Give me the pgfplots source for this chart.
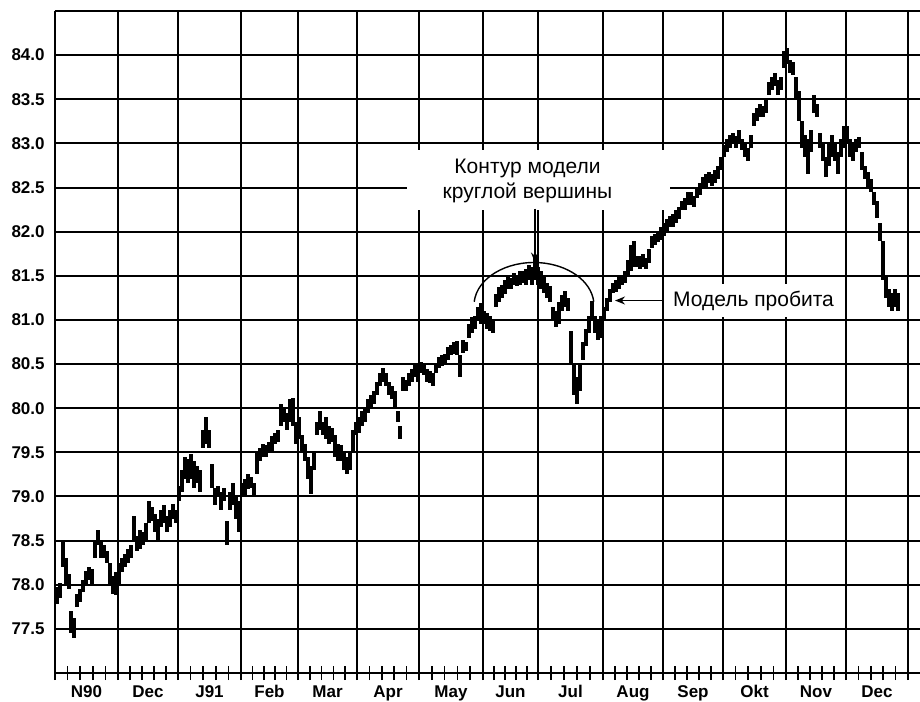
\documentclass[border=0pt]{standalone}
\usepackage{pgfplots}
\pgfplotsset{compat=1.18}
\usepackage{pgfplotstable}
\usepackage{fontspec}
\setmainfont{Liberation Sans}
\usetikzlibrary{arrows.meta,calc}

\pgfplotstableread{
x l h
2 77.78 77.98
5 77.85 78.02
8 78.2 78.5
11 78.0 78.3
14 77.95 78.12
16 77.45 77.7
19 77.4 77.62
22 77.75 77.9
25 77.8 77.95
28 77.92 78.05
31 78.0 78.15
34 78.05 78.2
37 78.0 78.18
40 78.3 78.5
43 78.45 78.62
46 78.3 78.48
49 78.3 78.45
52 78.25 78.38
55 78.0 78.25
58 77.9 78.1
61 77.88 78.15
64 78.0 78.25
67 78.15 78.3
70 78.2 78.35
73 78.25 78.4
76 78.3 78.45
79 78.5 78.78
82 78.38 78.55
85 78.4 78.62
88 78.45 78.6
91 78.5 78.7
94 78.7 78.95
97 78.72 78.88
100 78.6 78.8
103 78.5 78.75
106 78.65 78.85
109 78.7 78.9
112 78.6 78.78
115 78.65 78.85
118 78.75 78.92
121 78.7 78.85
124 78.95 79.12
127 79.05 79.3
130 79.2 79.45
133 79.15 79.42
136 79.2 79.48
139 79.1 79.4
142 79.15 79.35
145 79.05 79.3
148 79.55 79.75
151 79.6 79.9
154 79.55 79.75
157 79.1 79.37
160 78.9 79.1
163 79.0 79.12
166 78.85 79.05
169 78.95 79.1
172 78.45 78.72
175 78.85 79.05
178 78.9 79.15
181 78.75 79.0
184 78.6 78.95
187 79.0 79.15
190 79.0 79.2
193 79.08 79.25
196 79.1 79.22
199 79.0 79.15
202 79.25 79.5
205 79.4 79.55
208 79.45 79.6
211 79.45 79.58
214 79.5 79.62
217 79.5 79.68
220 79.6 79.72
223 79.62 79.75
226 79.8 80.05
229 79.85 80.0
232 79.75 79.95
235 79.85 80.1
238 79.8 80.12
241 79.6 79.85
244 79.65 79.9
247 79.5 79.7
250 79.4 79.6
253 79.2 79.45
256 79.03 79.35
259 79.3 79.5
262 79.7 79.85
265 79.75 79.97
268 79.7 79.85
271 79.65 79.9
274 79.6 79.8
277 79.62 79.78
280 79.45 79.7
283 79.4 79.6
286 79.4 79.58
289 79.3 79.5
292 79.25 79.45
295 79.3 79.5
298 79.5 79.75
301 79.7 79.85
304 79.72 79.9
307 79.8 79.97
310 79.85 80.0
313 79.95 80.1
316 80.0 80.15
319 80.05 80.2
322 80.15 80.3
325 80.25 80.4
328 80.3 80.46
331 80.25 80.4
334 80.15 80.3
337 80.1 80.25
340 80.0 80.2
343 79.85 79.97
345 79.65 79.8
348 80.2 80.35
351 80.2 80.32
354 80.25 80.4
357 80.3 80.45
360 80.35 80.5
363 80.3 80.5
366 80.4 80.52
369 80.38 80.5
372 80.3 80.45
375 80.28 80.42
378 80.25 80.4
381 80.4 80.5
384 80.45 80.58
387 80.48 80.6
390 80.5 80.62
393 80.55 80.7
396 80.6 80.72
399 80.62 80.75
402 80.6 80.76
405 80.35 80.6
408 80.62 80.77
411 80.65 80.75
414 80.8 80.95
417 80.85 81.03
420 80.9 81.05
423 81.0 81.15
426 80.95 81.19
429 80.95 81.1
432 80.9 81.08
435 80.88 81.05
438 80.85 81.0
441 81.15 81.3
444 81.2 81.37
447 81.25 81.4
450 81.3 81.45
453 81.35 81.5
456 81.35 81.48
459 81.4 81.53
462 81.38 81.5
465 81.4 81.55
468 81.42 81.56
471 81.4 81.58
474 81.45 81.62
477 81.4 81.6
480 81.45 81.72
483 81.4 81.6
486 81.35 81.55
489 81.3 81.5
492 81.25 81.42
495 81.2 81.38
498 81.0 81.15
501 80.92 81.1
504 80.95 81.2
507 81.1 81.28
510 81.15 81.33
513 81.1 81.25
516 80.5 80.88
519 80.15 80.5
522 80.05 80.35
525 80.2 80.5
528 80.55 80.75
531 80.7 80.9
534 80.85 81.05
537 81.0 81.22
540 80.85 81.05
543 80.77 81.0
546 80.8 81.05
549 81.0 81.15
552 81.1 81.25
555 81.2 81.35
558 81.3 81.42
561 81.32 81.45
564 81.35 81.5
567 81.4 81.5
570 81.42 81.55
573 81.5 81.68
576 81.55 81.85
579 81.6 81.9
582 81.6 81.72
585 81.58 81.72
588 81.6 81.75
591 81.58 81.7
594 81.65 81.8
597 81.82 81.95
600 81.85 81.98
603 81.88 82.0
606 81.9 82.05
609 81.95 82.1
612 82.0 82.15
615 82.05 82.18
618 82.05 82.2
621 82.1 82.25
624 82.15 82.28
627 82.25 82.35
630 82.25 82.38
633 82.3 82.45
636 82.3 82.45
639 82.28 82.4
642 82.38 82.5
645 82.42 82.55
648 82.5 82.62
651 82.5 82.65
654 82.55 82.68
657 82.52 82.65
660 82.55 82.7
663 82.6 82.75
666 82.7 82.85
669 82.85 82.98
672 82.9 83.05
675 82.95 83.1
678 83.0 83.12
681 82.95 83.08
684 83.0 83.15
687 82.92 83.05
690 82.85 83.0
693 82.8 82.95
696 82.95 83.1
699 83.2 83.35
702 83.25 83.4
705 83.3 83.45
708 83.3 83.42
711 83.35 83.5
714 83.55 83.7
717 83.6 83.75
720 83.65 83.8
723 83.55 83.72
726 83.6 83.75
729 83.85 84.05
732 83.9 84.08
735 83.8 83.95
738 83.78 83.92
741 83.5 83.75
744 83.25 83.6
747 82.95 83.25
750 82.85 83.1
753 82.65 83.05
756 82.9 83.15
759 83.35 83.55
762 83.3 83.45
765 82.95 83.12
768 82.8 83.0
771 82.62 82.85
774 82.75 83.0
777 82.85 83.1
780 82.8 83.0
783 82.65 82.9
786 82.85 83.05
789 82.95 83.2
792 83.0 83.2
795 82.85 83.05
798 82.8 83.0
801 82.9 83.05
804 82.95 83.07
807 82.7 82.9
810 82.6 82.75
813 82.5 82.68
816 82.45 82.6
819 82.3 82.45
822 82.15 82.35
825 81.9 82.1
828 81.45 81.9
831 81.25 81.5
834 81.15 81.35
837 81.1 81.3
840 81.15 81.35
843 81.1 81.3
}\bars

\begin{document}
\begin{tikzpicture}
\begin{axis}[
  scale only axis,
  width=432.5pt, height=331pt,
  xmin=0, xmax=865, ymin=77, ymax=84.5,
  axis x line*=bottom, axis y line*=left,
  axis line style={black, line width=1pt},
  xtick={31.5,93,154.5,214.5,272.5,333,396,455.5,515.5,578,638,699.5,761,822},
  xticklabels={N90,Dec,J91,Feb,Mar,Apr,May,Jun,Jul,Aug,Sep,Okt,Nov,Dec},
  minor xtick={0,12.6,25.2,37.8,50.4,63,75,87,99,111,123,135.6,148.2,160.8,173.4,186,197.4,208.8,220.2,231.6,243,254.8,266.6,278.4,290.2,302,314.4,326.8,339.2,351.6,364,376.8,389.6,402.4,415.2,428,439,450,461,472,483,496,509,522,535,548,560,572,584,596,608,620,632,644,656,668,680.6,693.2,705.8,718.4,731,743,755,767,779,791,803.4,815.8,828.2,840.6,853},
  extra x ticks={0,63,123,186,243,302,364,428,483,548,608,668,731,791,853},
  extra x tick labels={},
  extra x tick style={grid=major},
  ytick={77.5,78,78.5,79,79.5,80,80.5,81,81.5,82,82.5,83,83.5,84,84.5},
  yticklabels={77.5,78.0,78.5,79.0,79.5,80.0,80.5,81.0,81.5,82.0,82.5,83.0,83.5,84.0,{}},
  ymajorgrids=true,
  major grid style={black, line width=1pt},
  major tick length=0pt, minor tick length=7pt, tick align=center,
  tick style={black, line width=0.8pt},
  /pgf/number format/assume math mode=true,
  xticklabel style={font=\bfseries\fontsize{8.5}{10}\selectfont, anchor=base, inner sep=0pt, yshift=-12pt},
  yticklabel style={font=\bfseries\fontsize{8.5}{10}\selectfont, anchor=east, inner sep=0pt, xshift=-5pt},
]
\addplot[draw=none, mark=none,
  error bars/.cd, y dir=both, y explicit, error mark=none,
  error bar style={draw=black, line width=1.6pt}]
  table[x=x, y expr=(\thisrow{l}+\thisrow{h})/2, y error expr=(\thisrow{h}-\thisrow{l})/2] {\bars};
% annotation 1
\fill[white] (axis cs:352,82.24) rectangle (axis cs:615,82.92);
\node[align=center, font=\fontsize{10.5}{12.5}\selectfont, inner sep=0pt] at (axis cs:472.5,82.57) {Контур модели\\круглой вершины};
\draw[black, line width=0.7pt, -{Stealth[length=5pt,width=4pt]}] (axis cs:480,82.26) -- (axis cs:480,81.65);
\draw[black, line width=0.7pt] (axis cs:419.2,81.206) arc[start angle=175, end angle=5, x radius=30pt, y radius=21.5pt];
% annotation 2
\fill[white] (axis cs:612,81.03) rectangle (axis cs:787,81.41);
\node[font=\fontsize{10.5}{12.5}\selectfont, inner sep=0pt] at (axis cs:698.5,81.22) {Модель пробита};
\draw[black, line width=0.7pt, -{Stealth[length=5pt,width=4pt]}] (axis cs:608,81.22) -- (axis cs:560,81.22);
\end{axis}
\pgfresetboundingbox
\path ($(current axis.south west)+(-27.5pt,-14pt)$) rectangle ($(current axis.north east)+(0pt,5.5pt)$);
\end{tikzpicture}
\end{document}
